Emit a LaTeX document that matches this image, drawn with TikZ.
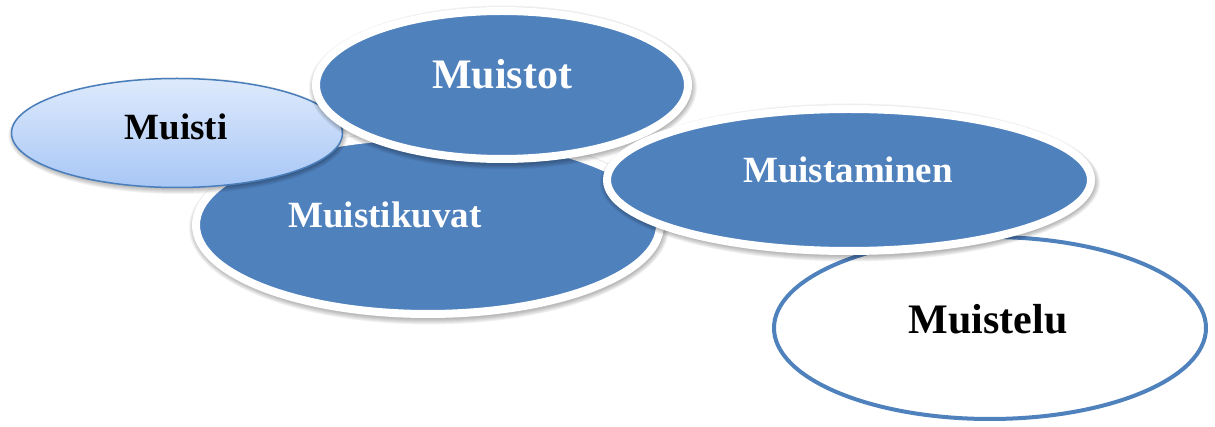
\documentclass[tikz,border=0pt]{standalone}
\usepackage{fontspec}
\setmainfont{Liberation Serif}
\usetikzlibrary{shapes.geometric}
\definecolor{accent}{HTML}{4F81BD}
\definecolor{accentdark}{HTML}{4A7EBB}
\definecolor{lighttop}{HTML}{DEEAFC}
\definecolor{lightbot}{HTML}{A8C7F6}
\tikzset{
  blueoval/.style={ellipse, fill=accent, draw=white, line width=8pt, inner sep=0pt},
  lightoval/.style={ellipse, top color=lighttop, bottom color=lightbot, draw=accentdark, line width=1.5pt, inner sep=0pt},
  outlineoval/.style={ellipse, fill=white, draw=accent, line width=4pt, inner sep=0pt},
  lbl/.style={inner sep=0pt, font=\bfseries},
  shadowlayer/.style={fill=black, opacity=0.05},
}
% soft shadow: centre x, centre y, half axes a, b, start offset
\newcommand{\ovshadow}[5]{%
  \foreach \d in {0,...,5}{%
    \pgfmathsetmacro{\rx}{#3+#5+\d}%
    \pgfmathsetmacro{\ry}{#4+#5+\d}%
    \fill[shadowlayer] (#1+1,#2+2.5) ellipse [x radius=\rx pt, y radius=\ry pt];
  }%
}
\begin{document}
\begin{tikzpicture}[x=1pt,y=-1pt]
\useasboundingbox (0,0) rectangle (1215,427);
\ovshadow{428}{225}{232}{89}{3}
\node[blueoval, minimum width=464pt, minimum height=178pt] (kuvat) at (428,225) {};
\ovshadow{177}{133}{165.5}{54.5}{-1}
\node[lightoval, minimum width=331pt, minimum height=109pt] (muisti) at (177,133) {};
\ovshadow{502}{85}{186}{74}{3}
\node[blueoval, minimum width=372pt, minimum height=148pt] (muistot) at (502,85) {};
\node[outlineoval, minimum width=432pt, minimum height=182pt] (muistelu) at (990,328) {};
\ovshadow{849}{180}{242}{71}{3}
\node[blueoval, minimum width=484pt, minimum height=142pt] (muistaminen) at (849,180) {};
% labels
\node[lbl, text=black, font=\bfseries\fontsize{37}{44}\selectfont] (tMuisti) at (176,127) {Muisti};
\node[lbl, text=white, font=\bfseries\fontsize{42}{50}\selectfont] (tMuistot) at (502,74) {Muistot};
\node[lbl, text=white, font=\bfseries\fontsize{37}{44}\selectfont] (tKuvat) at (385,215) {Muistikuvat};
\node[lbl, text=white, font=\bfseries\fontsize{37}{44}\selectfont] (tMuistaminen) at (848,170) {Muistaminen};
\node[lbl, text=black, font=\bfseries\fontsize{42}{50}\selectfont] (tMuistelu) at (988,319) {Muistelu};
\end{tikzpicture}
\end{document}
